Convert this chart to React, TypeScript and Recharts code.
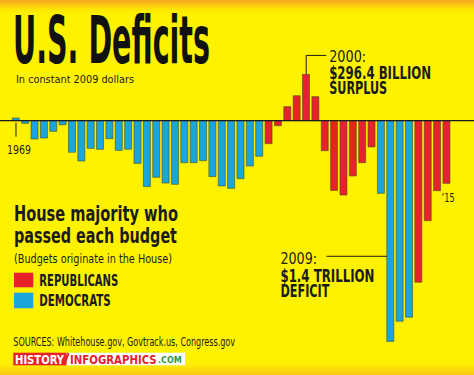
import { BarChart, Bar, XAxis, YAxis, Cell, ReferenceLine, ReferenceDot } from 'recharts';

// fiscal years shown on the chart
const years = [
  1969, 1970, 1971, 1972, 1973, 1974, 1975, 1976, 1977, 1978,
  1979, 1980, 1981, 1982, 1983, 1984, 1985, 1986, 1987, 1988,
  1989, 1990, 1991, 1992, 1993, 1994, 1995, 1996, 1997, 1998,
  1999, 2000, 2001, 2002, 2003, 2004, 2005, 2006, 2007, 2008,
  2009, 2010, 2011, 2012, 2013, 2014, 2015,
];

// surplus (+) / deficit (-), billions of constant 2009 dollars
const balance = [
  17, -17, -117, -111, -68, -26, -202, -258, -177, -183,
  -115, -190, -183, -273, -422, -362, -399, -407, -269, -269,
  -256, -358, -418, -433, -371, -290, -228, -147, -32, 90,
  160, 296.4, 154, -192, -446, -476, -354, -269, -168, -465,
  -1413, -1284, -1258, -1034, -640, -448, -401,
];

// house majority that passed each budget
const majority = [
  'D', 'D', 'D', 'D', 'D', 'D', 'D', 'D', 'D', 'D',
  'D', 'D', 'D', 'D', 'D', 'D', 'D', 'D', 'D', 'D',
  'D', 'D', 'D', 'D', 'D', 'D', 'D', 'R', 'R', 'R',
  'R', 'R', 'R', 'R', 'R', 'R', 'R', 'R', 'R', 'D',
  'D', 'D', 'D', 'R', 'R', 'R', 'R',
];

const RED = '#e7222a';
const BLUE = '#1aa6dd';
const INK = '#1b1b1b';
const NARROW = "'DejaVu Sans Condensed', 'Liberation Sans Narrow', 'Roboto', sans-serif";

const data = years.map((year, i) => ({ year, value: balance[i], party: majority[i] }));

// svg text squeezed to the width measured on the picture
const T = ({ x, y, w, size, bold, fill = INK, children }: any) => (
  <text
    x={x}
    y={y}
    textLength={w}
    lengthAdjust="spacingAndGlyphs"
    fontFamily={NARROW}
    fontSize={size}
    fontWeight={bold ? 700 : 400}
    fill={fill}
  >
    {children}
  </text>
);

export default function App() {
  return (
    <div
      style={{
        position: 'relative',
        width: 474,
        height: 375,
        overflow: 'hidden',
        background:
          'linear-gradient(to bottom, #f6a321 0px, #fde400 9px, #fff200 14px, #fff200 363px, #f9c512 375px)',
      }}
    >
      <style>{'body{margin:0}'}</style>
      <BarChart
        width={474}
        height={375}
        data={data}
        margin={{ top: 27, right: 22.7, bottom: 20, left: 11.3 }}
        barCategoryGap={0}
        style={{ position: 'absolute', left: 0, top: 0 }}
      >
        <XAxis dataKey="year" hide />
        <YAxis hide domain={[-1500, 600]} />
        <Bar dataKey="value" barSize={7} stroke="#4b4a22" strokeWidth={0.6} isAnimationActive={false}>
          {data.map((d) => (
            <Cell key={d.year} fill={d.party === 'R' ? RED : BLUE} />
          ))}
        </Bar>
        <ReferenceLine
          y={0}
          shape={(p: any) => <line x1={0} x2={474} y1={p.y1} y2={p.y2} stroke={INK} strokeWidth={1.2} />}
        />
        <ReferenceDot
          x={1969}
          y={0}
          shape={(p: any) => (
            <g>
              <line x1={p.cx} x2={p.cx} y1={p.cy + 2} y2={p.cy + 16} stroke={INK} strokeWidth={1} />
              <T x={p.cx - 9} y={p.cy + 33} w={24} size={12}>1969</T>
            </g>
          )}
        />
        <ReferenceDot
          x={2015}
          y={-401}
          shape={(p: any) => (
            <T x={p.cx - 5} y={p.cy + 19} w={13} size={12}>’15</T>
          )}
        />
        <ReferenceDot
          x={2000}
          y={296.4}
          shape={(p: any) => (
            <g>
              <path
                d={`M${p.cx},${p.cy} V${p.cy - 19} H${p.cx + 20}`}
                fill="none"
                stroke={INK}
                strokeWidth={1}
              />
              <T x={p.cx + 23} y={p.cy - 12.5} w={37} size={16}>2000:</T>
              <T x={p.cx + 23} y={p.cy + 5} w={102} size={17} bold>$296.4 BILLION</T>
              <T x={p.cx + 23} y={p.cy + 20} w={58} size={17} bold>SURPLUS</T>
            </g>
          )}
        />
        <ReferenceDot
          x={2009}
          y={-868}
          shape={(p: any) => (
            <g>
              <line x1={p.cx - 64} x2={p.cx - 3.5} y1={p.cy} y2={p.cy} stroke={INK} strokeWidth={1} />
              <T x={p.cx - 110} y={p.cy + 7.5} w={36.6} size={16}>2009:</T>
              <T x={p.cx - 110} y={p.cy + 25.3} w={94} size={17} bold>$1.4 TRILLION</T>
              <T x={p.cx - 110} y={p.cy + 41} w={49} size={17} bold>DEFICIT</T>
            </g>
          )}
        />
      </BarChart>

      <svg
        width={474}
        height={375}
        style={{ position: 'absolute', left: 0, top: 0, pointerEvents: 'none' }}
      >
        <T x={13} y={63} w={197} size={66} bold fill="#111">U.S. Deficits</T>
        <T x={16} y={83.3} w={118} size={11}>In constant 2009 dollars</T>

        <T x={14} y={221} w={164} size={21} bold>House majority who</T>
        <T x={14} y={243.3} w={163} size={21} bold>passed each budget</T>
        <T x={14} y={262.5} w={158} size={12.5}>(Budgets originate in the House)</T>

        <rect x={14} y={272.7} width={19.3} height={14.6} fill={RED} />
        <T x={39.3} y={285.7} w={79} size={15} bold>REPUBLICANS</T>
        <rect x={14} y={292.7} width={19.3} height={15.6} fill={BLUE} />
        <T x={39.3} y={305.7} w={71.4} size={15} bold>DEMOCRATS</T>

        <T x={13.3} y={346} w={221.7} size={12}>SOURCES: Whitehouse.gov, Govtrack.us, Congress.gov</T>

        <rect x={13.3} y={352.7} width={53.4} height={12.6} fill={RED} />
        <rect x={66.7} y={352.7} width={118.3} height={12.6} fill="#ffffff" />
        <T x={15} y={363.5} w={49} size={13} bold fill="#ffffff">HISTORY</T>
        <path d="M68.5,353 L64,365" stroke={RED} strokeWidth={2.2} />
        <T x={70} y={363.5} w={86.7} size={13} bold fill={RED}>INFOGRAPHICS</T>
        <T x={158} y={363.3} w={23.7} size={9} bold fill="#1d9a4c">.COM</T>
      </svg>
    </div>
  );
}
